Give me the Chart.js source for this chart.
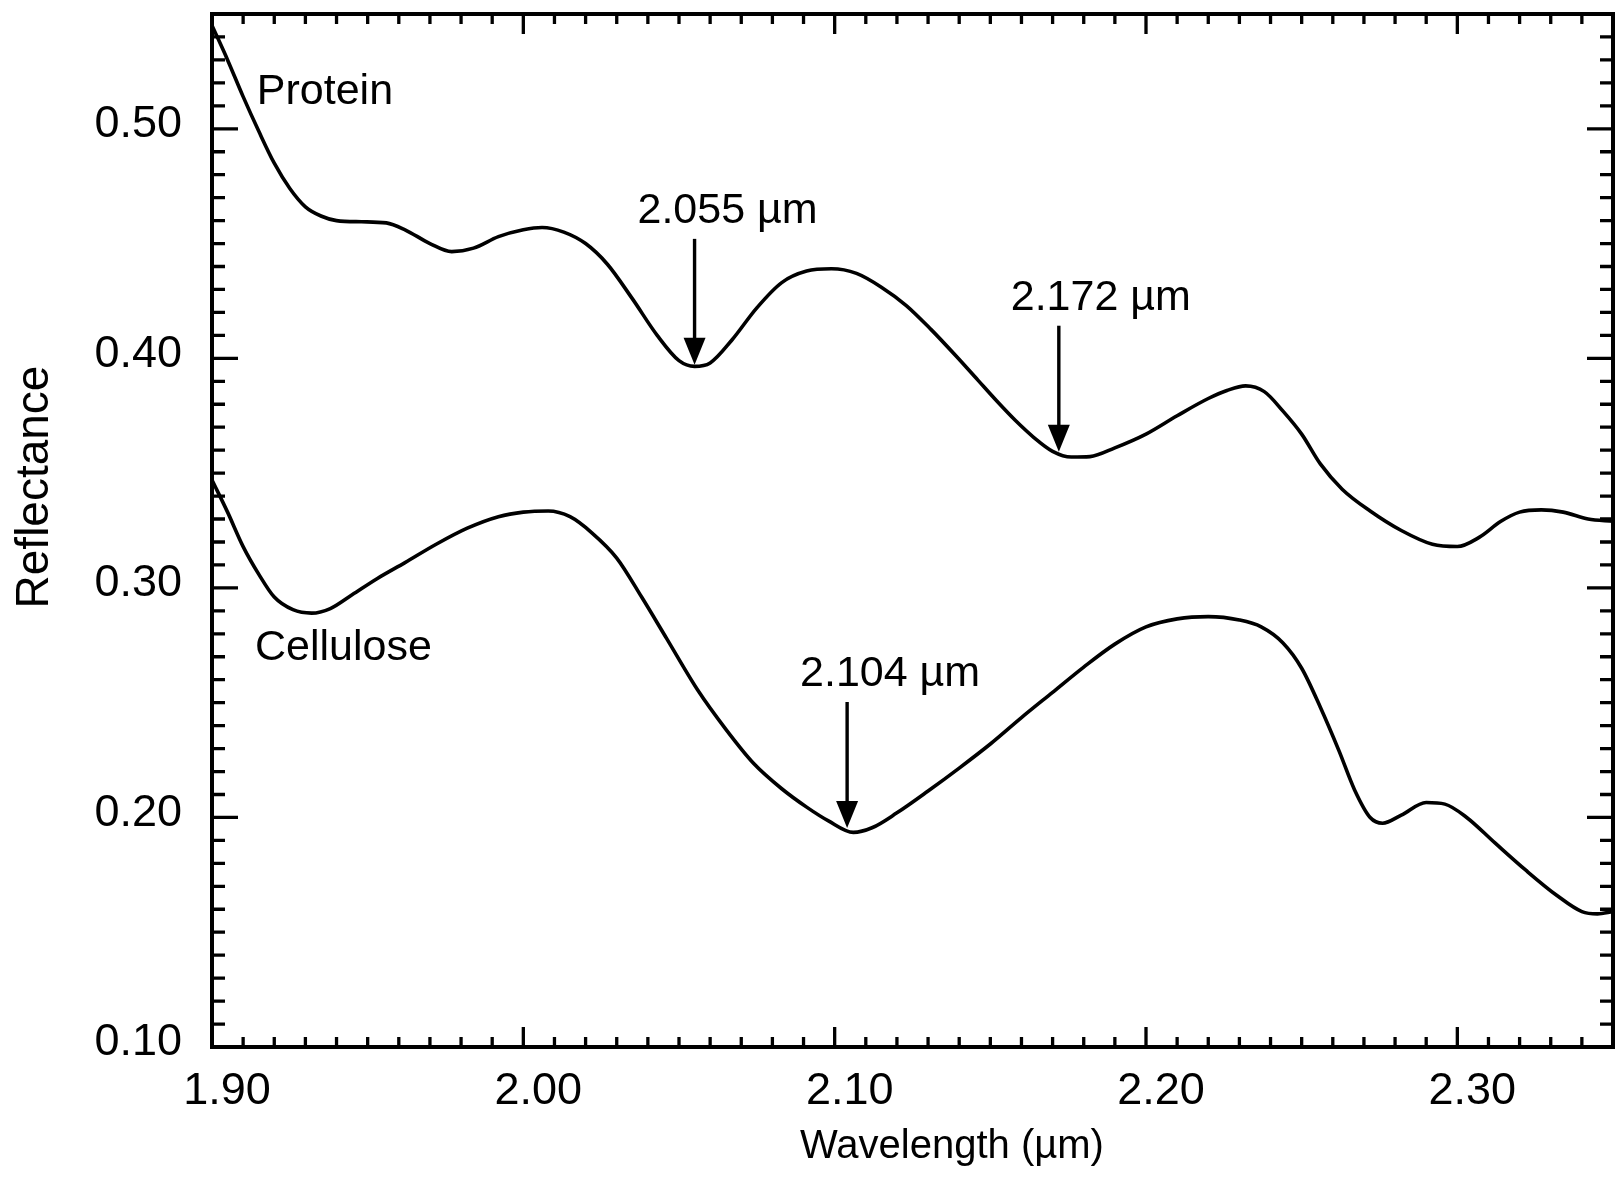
<!DOCTYPE html>
<html>
<head>
<meta charset="utf-8">
<title>Reflectance spectra</title>
<script src="https://cdn.jsdelivr.net/npm/chart.js@4.4.1/dist/chart.umd.min.js"></script>
<style>
  html, body { margin: 0; padding: 0; background: #fff; }
  #spectra { display: block; }
</style>
</head>
<body>
<canvas id="spectra" width="1615" height="1188"></canvas>
<script>
// Protein spectrum
var proteinWavelength = [1.900, 1.905, 1.910, 1.915, 1.920, 1.925, 1.930, 1.935, 1.940, 1.948,
  1.956, 1.962, 1.970, 1.977, 1.984, 1.992, 2.000, 2.006, 2.013, 2.020,
  2.027, 2.035, 2.043, 2.050, 2.055, 2.060, 2.067, 2.075, 2.083, 2.091,
  2.099, 2.107, 2.115, 2.123, 2.131, 2.139, 2.146, 2.152, 2.158, 2.164,
  2.170, 2.176, 2.182, 2.190, 2.200, 2.210, 2.220, 2.226, 2.232, 2.238,
  2.244, 2.250, 2.256, 2.263, 2.272, 2.282, 2.292, 2.300, 2.307, 2.314,
  2.320, 2.327, 2.334, 2.342, 2.350];
var proteinReflectance = [0.545, 0.530, 0.514, 0.499, 0.485, 0.474, 0.466, 0.462, 0.460, 0.4595,
  0.459, 0.456, 0.450, 0.4465, 0.448, 0.453, 0.456, 0.457, 0.455, 0.450,
  0.441, 0.426, 0.410, 0.399, 0.3965, 0.398, 0.408, 0.422, 0.433, 0.438,
  0.439, 0.437, 0.431, 0.423, 0.4125, 0.401, 0.3905, 0.3815, 0.373, 0.3655,
  0.3595, 0.357, 0.3572, 0.361, 0.367, 0.375, 0.3825, 0.386, 0.388, 0.3855,
  0.377, 0.367, 0.354, 0.343, 0.3335, 0.325, 0.319, 0.318, 0.322, 0.329,
  0.333, 0.334, 0.333, 0.330, 0.329];

// Cellulose spectrum
var celluloseWavelength = [1.900, 1.905, 1.910, 1.915, 1.920, 1.926, 1.932, 1.938, 1.945, 1.953,
  1.962, 1.972, 1.982, 1.992, 2.000, 2.008, 2.015, 2.022, 2.030, 2.038,
  2.046, 2.056, 2.065, 2.074, 2.083, 2.091, 2.098, 2.106, 2.112, 2.120,
  2.130, 2.140, 2.150, 2.160, 2.170, 2.180, 2.190, 2.200, 2.210, 2.220,
  2.230, 2.237, 2.244, 2.250, 2.256, 2.262, 2.267, 2.272, 2.276, 2.282,
  2.290, 2.296, 2.303, 2.312, 2.322, 2.332, 2.340, 2.345, 2.350];
var celluloseReflectance = [0.347, 0.333, 0.318, 0.306, 0.296, 0.2905, 0.289, 0.291, 0.297, 0.304,
  0.311, 0.319, 0.326, 0.331, 0.333, 0.3335, 0.331, 0.324, 0.313, 0.296,
  0.278, 0.2555, 0.2385, 0.2235, 0.2125, 0.2045, 0.1985, 0.1935, 0.1955, 0.202,
  0.2115, 0.2215, 0.232, 0.2435, 0.2545, 0.2655, 0.2755, 0.283, 0.2865, 0.2875,
  0.286, 0.283, 0.276, 0.265, 0.248, 0.229, 0.212, 0.200, 0.1975, 0.201,
  0.2065, 0.2058, 0.200, 0.189, 0.177, 0.166, 0.159, 0.158, 0.159];

// absorption features marked with arrows
var featureWavelength = [2.055, 2.172, 2.104];
var featureSeries = ['Protein', 'Protein', 'Cellulose'];

var xTicks = [1.90, 2.00, 2.10, 2.20, 2.30];
var yTicks = [0.10, 0.20, 0.30, 0.40, 0.50];

var FONT = "'Liberation Sans', Arial, Helvetica, sans-serif";

// where the feature labels sit relative to their arrow (px)
var featureLabelDx = [33, 42, 43];
var ARROW_LEN = 126;
var HEAD_LEN = 27;
var HEAD_HALF = 11;

// curve names: [wavelength at left edge, reflectance at baseline]
var curveNames = [
  { text: 'Protein', x: 1.9144, y: 0.5107 },
  { text: 'Cellulose', x: 1.9138, y: 0.2685 }
];

function toPoints(xs, ys) {
  return xs.map(function (x, i) { return { x: x, y: ys[i] }; });
}

function interp(xs, ys, v) {
  for (var i = 1; i < xs.length; i++) {
    if (v <= xs[i]) {
      var t = (v - xs[i - 1]) / (xs[i] - xs[i - 1]);
      return ys[i - 1] + t * (ys[i] - ys[i - 1]);
    }
  }
  return ys[ys.length - 1];
}

var series = {
  Protein: [proteinWavelength, proteinReflectance],
  Cellulose: [celluloseWavelength, celluloseReflectance]
};

// box, inward ticks, axis titles and feature arrows
var decorations = {
  id: 'decorations',
  afterDatasetsDraw: function (chart) {
    var ctx = chart.ctx;
    var a = chart.chartArea;
    var x = chart.scales.x;
    var y = chart.scales.y;
    var i, v, p, len;

    ctx.save();
    ctx.strokeStyle = '#000';
    ctx.fillStyle = '#000';
    ctx.lineCap = 'butt';

    ctx.lineWidth = 4;
    ctx.strokeRect(a.left, a.top, a.right - a.left, a.bottom - a.top);

    ctx.lineWidth = 3.3;
    ctx.beginPath();
    for (i = 1; i < 45; i++) {
      v = 1.90 + i * 0.01;
      p = x.getPixelForValue(v);
      len = (i % 10 === 0) ? 20 : 10;
      ctx.moveTo(p, a.bottom);
      ctx.lineTo(p, a.bottom - len);
      ctx.moveTo(p, a.top);
      ctx.lineTo(p, a.top + len);
    }
    for (i = 1; i < 45; i++) {
      v = 0.10 + i * 0.01;
      p = y.getPixelForValue(v);
      len = (i % 10 === 0) ? 26 : 13;
      ctx.moveTo(a.left, p);
      ctx.lineTo(a.left + len, p);
      ctx.moveTo(a.right, p);
      ctx.lineTo(a.right - len, p);
    }
    ctx.stroke();

    // feature arrows
    ctx.font = '43px ' + FONT;
    ctx.textAlign = 'center';
    ctx.textBaseline = 'alphabetic';
    featureWavelength.forEach(function (w, k) {
      var s = series[featureSeries[k]];
      var px = x.getPixelForValue(w);
      var tip = y.getPixelForValue(interp(s[0], s[1], w)) - 1.5;
      var tail = tip - ARROW_LEN;
      ctx.lineWidth = 3.4;
      ctx.beginPath();
      ctx.moveTo(px, tail);
      ctx.lineTo(px, tip - HEAD_LEN + 2);
      ctx.stroke();
      ctx.beginPath();
      ctx.moveTo(px, tip);
      ctx.lineTo(px - HEAD_HALF, tip - HEAD_LEN);
      ctx.lineTo(px + HEAD_HALF, tip - HEAD_LEN);
      ctx.closePath();
      ctx.fill();
      ctx.fillText(w.toFixed(3) + ' \u00b5m', px + featureLabelDx[k], tail - 16);
    });

    // curve names
    ctx.textAlign = 'left';
    curveNames.forEach(function (n) {
      ctx.fillText(n.text, x.getPixelForValue(n.x), y.getPixelForValue(n.y));
    });

    // axis titles
    ctx.font = '40px ' + FONT;
    ctx.textAlign = 'center';
    ctx.fillText('Wavelength (\u00b5m)', 952, 1158);

    ctx.translate(48, 487);
    ctx.rotate(-Math.PI / 2);
    ctx.font = '46px ' + FONT;
    ctx.fillText('Reflectance', 0, 0);
    ctx.restore();
  }
};

new Chart(document.getElementById('spectra'), {
  type: 'line',
  data: {
    datasets: [
      { label: 'Protein', data: toPoints(proteinWavelength, proteinReflectance) },
      { label: 'Cellulose', data: toPoints(celluloseWavelength, celluloseReflectance) }
    ]
  },
  options: {
    responsive: false,
    animation: false,
    events: [],
    layout: { padding: { top: 14, right: 2, left: 0, bottom: 0 } },
    elements: {
      point: { radius: 0 },
      line: { borderColor: '#000', borderWidth: 3.6, cubicInterpolationMode: 'monotone', fill: false }
    },
    plugins: {
      legend: { display: false },
      tooltip: { enabled: false }
    },
    scales: {
      x: {
        type: 'linear',
        min: 1.90,
        max: 2.35,
        afterBuildTicks: function (s) { s.ticks = xTicks.map(function (v) { return { value: v }; }); },
        afterFit: function (s) {
          s.height = 141;
          s.paddingLeft = 0;
          s.paddingRight = 0;
        },
        grid: { display: false, drawTicks: false },
        border: { display: false },
        ticks: {
          color: '#000',
          font: { family: FONT, size: 45 },
          padding: 18,
          labelOffset: 15,
          maxRotation: 0,
          autoSkip: false,
          callback: function (v) { return v.toFixed(2); }
        }
      },
      y: {
        type: 'linear',
        min: 0.10,
        max: 0.55,
        afterBuildTicks: function (s) { s.ticks = yTicks.map(function (v) { return { value: v }; }); },
        afterFit: function (s) {
          s.width = 212;
          s.paddingTop = 0;
          s.paddingBottom = 0;
        },
        grid: { display: false, drawTicks: false },
        border: { display: false },
        ticks: {
          color: '#000',
          font: { family: FONT, size: 45 },
          padding: 30,
          labelOffset: -4,
          autoSkip: false,
          callback: function (v) { return v.toFixed(2); }
        }
      }
    }
  },
  plugins: [decorations]
});
</script>
</body>
</html>
